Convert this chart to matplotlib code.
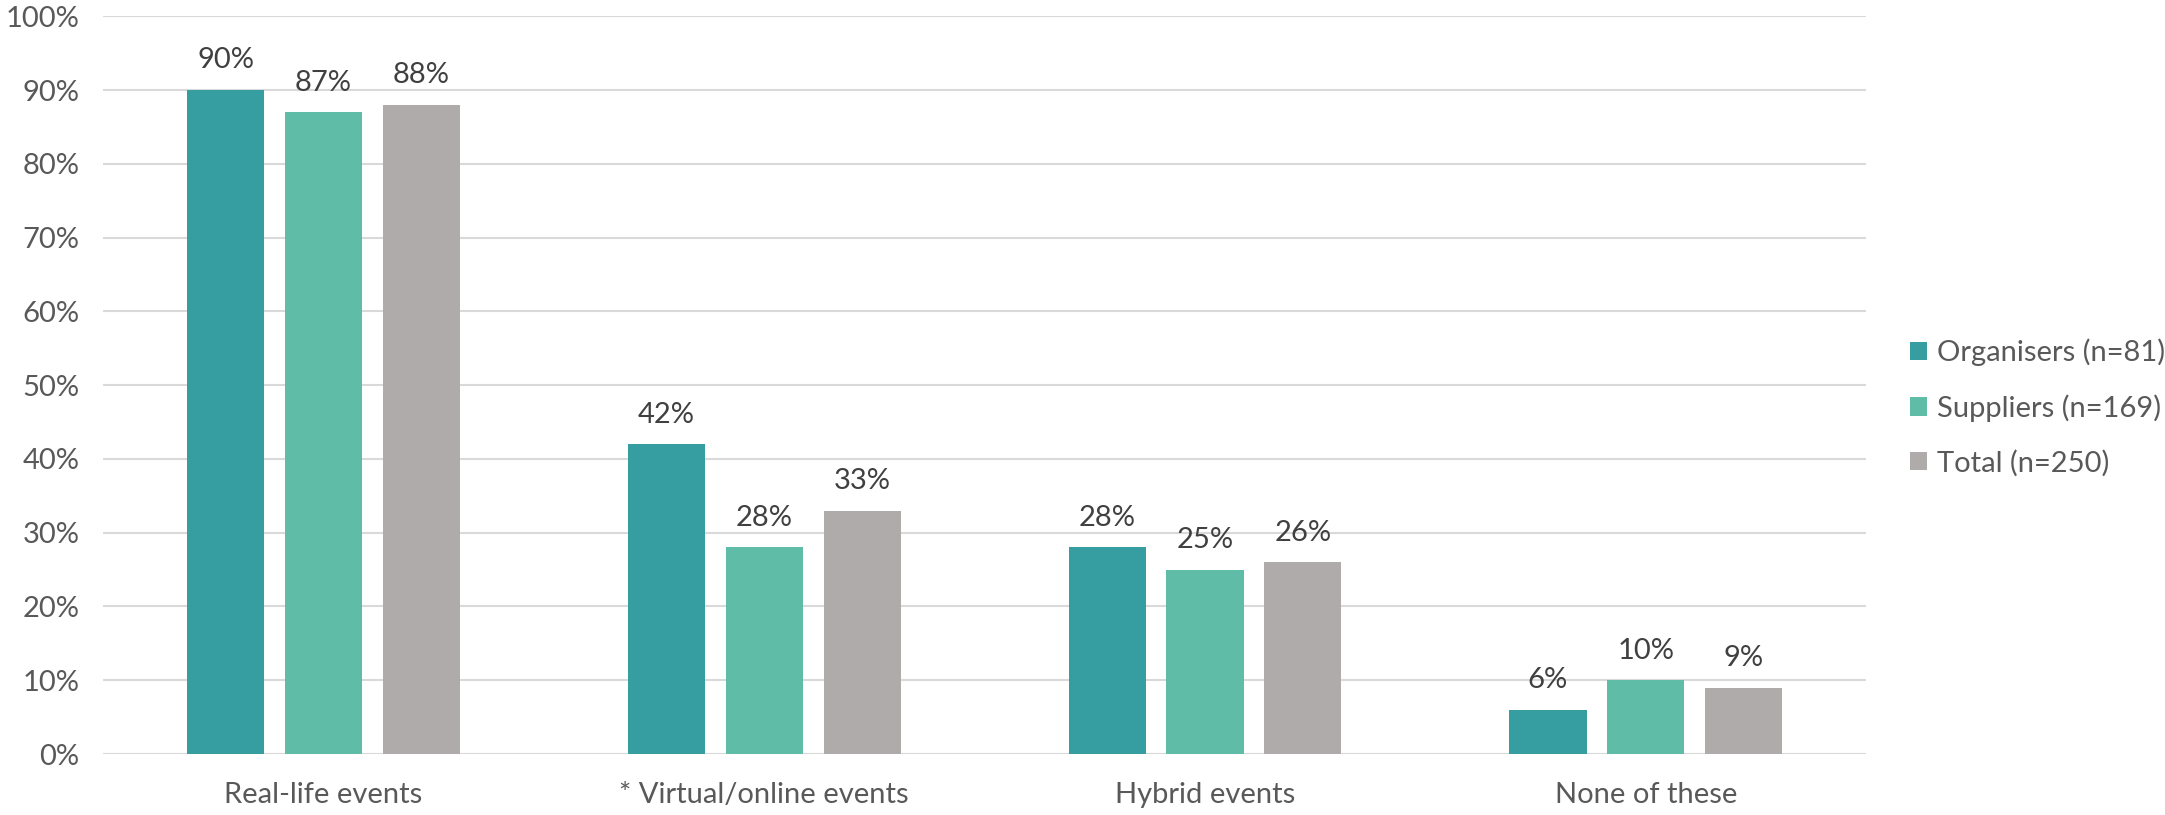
import numpy as np
import matplotlib
matplotlib.use("Agg")
import matplotlib.pyplot as plt
from matplotlib.patches import Patch

categories = ["Real-life events", "* Virtual/online events", "Hybrid events", "None of these"]
series_names = ["Organisers (n=81)", "Suppliers (n=169)", "Total (n=250)"]
organisers = [90, 42, 28, 6]
suppliers = [87, 28, 25, 10]
total = [88, 33, 26, 9]
yticks = [0, 10, 20, 30, 40, 50, 60, 70, 80, 90, 100]

colors = ["#369EA1", "#5FBCA6", "#AFABAB"]
plt.rcParams['font.family'] = ['Lato', 'DejaVu Sans']
fs = 21

fig = plt.figure(figsize=(21.65, 8.15), dpi=100)
ax = fig.add_axes([0.0476, 0.0748, 0.8144, 0.9052])

x = np.arange(len(categories))
width = 0.175
step = 0.222
for i, (vals, name, c) in enumerate(zip([organisers, suppliers, total], series_names, colors)):
    pos = x + (i - 1) * step
    bars = ax.bar(pos, vals, width=width, color=c, label=name, zorder=3)
    for b, v in zip(bars, vals):
        ax.annotate(f"{v}%", (b.get_x() + b.get_width() / 2, v),
                    xytext=(0, 12), textcoords="offset points",
                    ha="center", va="bottom", fontsize=fs, color="#404040")

ax.set_xlim(-0.5, len(categories) - 0.5)
ax.set_ylim(0, 100)
ax.set_yticks(yticks)
ax.set_yticklabels([f"{t}%" for t in yticks])
ax.set_xticks(x)
ax.set_xticklabels(categories)
ax.tick_params(axis="both", length=0, labelsize=fs, labelcolor="#595959")
ax.tick_params(axis="x", pad=20)
ax.tick_params(axis="y", pad=17)
ax.yaxis.grid(True, color="#D9D9D9", linewidth=1.5, zorder=0)
for s in ax.spines.values():
    s.set_visible(False)

handles = [Patch(facecolor=c, edgecolor="none") for c in colors]
leg = fig.legend(handles, series_names, loc="center left", bbox_to_anchor=(0.882, 0.50),
                 frameon=False, fontsize=fs, handlelength=0.6, handleheight=0.6,
                 handletextpad=0.35, labelspacing=0.95, borderpad=0, borderaxespad=0)
for t in leg.get_texts():
    t.set_color("#595959")

fig.savefig("out.png", dpi=100)
